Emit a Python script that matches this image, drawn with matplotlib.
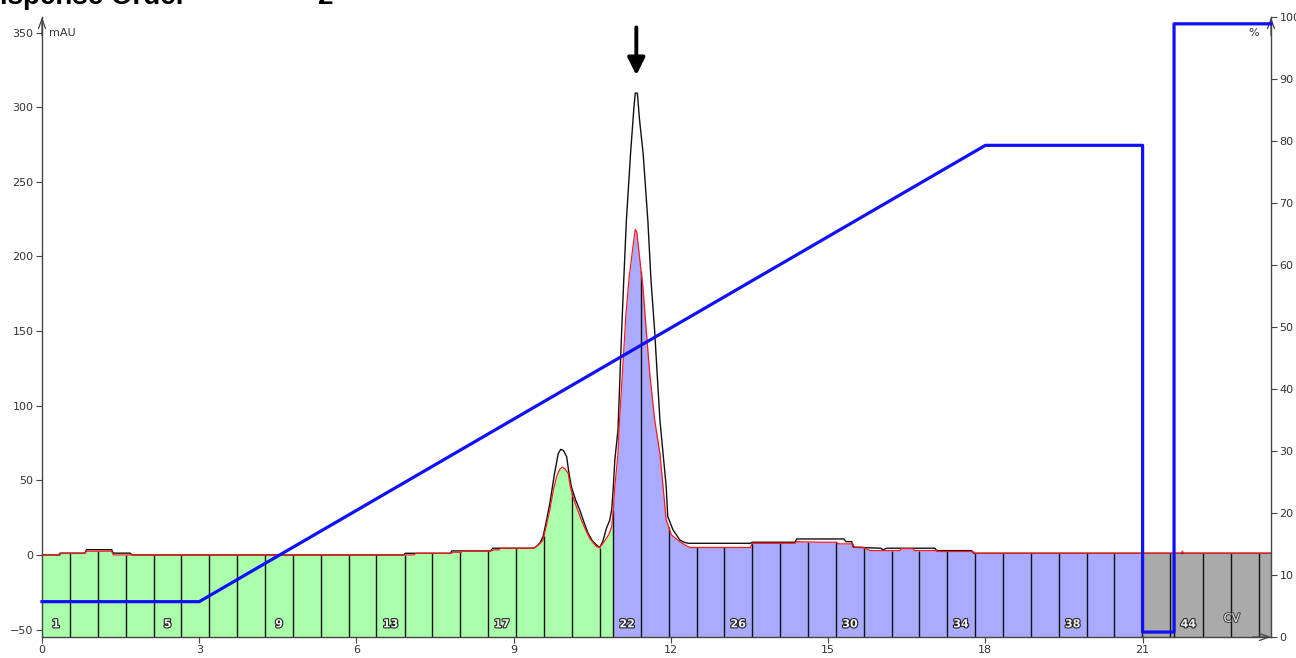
import numpy as np
import matplotlib
matplotlib.use("Agg")
import matplotlib.pyplot as plt
import matplotlib.patheffects as pe

# UV trace (black), CV vs mAU
black_cv = [0.0, 0.34, 0.345, 0.82, 0.85, 1.33, 1.36, 1.68, 1.72, 6.90, 6.93, 7.79, 7.82,
            8.56, 8.60, 9.38, 9.43, 9.50, 9.56, 9.62, 9.69, 9.78, 9.85, 9.90, 9.95, 10.01,
            10.05, 10.10, 10.18, 10.26, 10.34, 10.42, 10.50, 10.58, 10.64, 10.70, 10.77,
            10.83, 10.87, 10.90, 10.93, 10.99, 11.06, 11.10, 11.15, 11.23, 11.29, 11.32,
            11.36, 11.40, 11.47, 11.56, 11.62, 11.69, 11.74, 11.79, 11.85, 11.91, 11.94,
            12.04, 12.17, 12.25, 12.33, 13.52, 13.55, 14.37, 14.40, 15.30, 15.34, 15.45,
            15.48, 16.00, 16.05, 16.12, 17.04, 17.07, 17.74, 17.78, 23.45]
black_mau = [0.0, 0.0, 1.2, 1.2, 3.5, 3.5, 1.2, 1.2, 0.0, 0.0, 1.1, 1.1, 2.7,
             2.7, 4.5, 4.5, 5.6, 8.0, 12.3, 22.0, 34.6, 54.7, 68.0, 70.8, 70.0, 65.9,
             56.0, 45.8, 37.0, 30.2, 22.0, 14.5, 9.5, 6.7, 4.9, 9.0, 17.9,
             23.0, 30.2, 45.0, 63.7, 83.8, 150.0, 184.0, 224.0, 269.0, 298.0, 309.5,
             309.5, 292.0, 269.0, 224.0, 184.0, 150.0, 120.0, 90.5, 68.0, 45.8, 25.7,
             16.8, 10.0, 8.5, 7.8, 7.8, 8.5, 8.5, 10.7, 10.7, 8.9, 8.9,
             5.2, 4.5, 3.5, 4.5, 4.5, 2.9, 2.9, 1.1, 1.1]

# second wavelength (red), CV vs mAU
red_cv = [0.0, 0.30, 0.34, 0.82, 0.85, 1.33, 1.36, 7.10, 7.13, 7.81, 7.85, 8.00, 8.03,
          8.58, 8.62, 8.72, 8.75, 9.38, 9.43, 9.50, 9.56, 9.62, 9.69, 9.76, 9.82, 9.88,
          9.93, 9.98, 10.04, 10.08, 10.13, 10.21, 10.29, 10.37, 10.45, 10.52, 10.58,
          10.64, 10.70, 10.77, 10.82, 10.87, 10.90, 10.93, 10.99, 11.02, 11.08, 11.14,
          11.20, 11.27, 11.32, 11.35, 11.40, 11.47, 11.53, 11.60, 11.69, 11.79, 11.85,
          11.91, 12.01, 12.17, 12.25, 12.36, 13.52, 13.55, 14.37, 14.40, 14.84, 15.16,
          15.20, 15.47, 15.50, 15.66, 15.80, 16.37, 16.40, 16.62, 16.65, 17.06, 17.09,
          17.76, 17.80, 21.74, 21.76, 21.78, 23.45]
red_mau = [0.0, 0.0, 1.0, 1.0, 2.5, 2.5, 0.0, 0.0, 1.1, 1.1, 1.8, 1.8, 2.7,
           2.7, 3.4, 3.4, 4.5, 4.5, 5.6, 7.5, 10.0, 19.0, 30.2, 44.0, 52.5, 57.5,
           58.8, 57.5, 54.7, 46.0, 39.0, 31.0, 23.5, 17.0, 11.2, 8.0, 5.6,
           4.9, 7.5, 11.2, 14.0, 19.0, 30.0, 45.8, 68.0, 90.5, 125.0, 160.0,
           185.0, 205.0, 218.2, 216.0, 200.0, 178.0, 150.0, 120.0, 90.5, 68.0, 45.8,
           23.5, 13.4, 8.9, 7.0, 5.0, 5.0, 7.8, 7.8, 8.9, 8.5, 8.5,
           7.4, 7.4, 5.2, 5.2, 2.9, 2.9, 4.2, 4.2, 2.9, 2.9, 2.3,
           2.3, 1.1, 1.1, 2.5, 1.1, 1.1]

# solvent B gradient, CV vs %
grad_cv = [0.0, 3.0, 18.0, 21.0, 21.0, 21.6, 21.6, 23.45]
grad_pct = [5.7, 5.7, 79.3, 79.3, 0.8, 0.8, 98.9, 98.9]

# collected fractions (edges in CV)
frac_edges = [0.0, 0.53, 1.06, 1.60, 2.13, 2.66, 3.19, 3.72, 4.26, 4.79, 5.32, 5.85, 6.38,
              6.92, 7.45, 7.98, 8.51, 9.04, 9.58, 10.11, 10.64, 10.90, 11.43, 11.96, 12.49,
              13.02, 13.55, 14.08, 14.62, 15.15, 15.68, 16.21, 16.74, 17.27, 17.80, 18.34,
              18.87, 19.40, 19.93, 20.46, 20.99, 21.52, 21.60, 22.15, 22.69, 23.22, 23.45]
frac_numbers = list(range(1, 42)) + [43, 44, 45, 46, 47]
frac_colors = ["#aaffaa"] * 21 + ["#aaaaff"] * 19 + ["#aaaaaa"] * 6
frac_labels = [1, 5, 9, 13, 17, 22, 26, 30, 34, 38, 44]

x_ticks = [0, 3, 6, 9, 12, 15, 18, 21]
mau_ticks = [-50, 0, 50, 100, 150, 200, 250, 300, 350]
pct_ticks = [0, 10, 20, 30, 40, 50, 60, 70, 80, 90, 100]

YMIN, YMAX = -55, 360.5
XMAX = 23.45
axis_col = "#444444"
tick_col = "#333333"

fig = plt.figure(figsize=(12.96, 6.58), dpi=100)
ax = fig.add_axes([42 / 1296, 21 / 658, 1229 / 1296, 620 / 658])
ax.set_xlim(0, XMAX)
ax.set_ylim(YMIN, YMAX)

# fraction bars, filled up to the red trace
for i in range(len(frac_numbers)):
    a, b = frac_edges[i], frac_edges[i + 1]
    inside = [c for c in red_cv if a < c < b]
    xs = np.union1d(np.linspace(a, b, 40), inside)
    ys = np.interp(xs, red_cv, red_mau)
    ax.fill_between(xs, YMIN, ys, color=frac_colors[i], lw=0, zorder=1)
    if frac_numbers[i] in frac_labels:
        ax.text((a + b) / 2, -46.5, str(frac_numbers[i]), ha="center", va="center",
                fontsize=8, fontweight="bold", color="#f4f4f4", zorder=5,
                path_effects=[pe.withStroke(linewidth=1.6, foreground="#222222")])

edge_tops = np.interp(frac_edges[1:-1], red_cv, red_mau)
ax.vlines(frac_edges[1:-1], YMIN, edge_tops, color="#111111", lw=1.0, zorder=2)

ax.plot(black_cv, black_mau, color="#111111", lw=1.0, zorder=3)
ax.plot(red_cv, red_mau, color="#ff1a1a", lw=0.9, zorder=4)

# arrow over the main peak
peak = int(np.argmax(black_mau))
peak_x = (black_cv[peak] + black_cv[peak + 1]) / 2
ax.annotate("", xy=(peak_x, 321.5), xytext=(peak_x, 353.5),
            arrowprops=dict(arrowstyle="-|>", lw=2.8, color="black", mutation_scale=26,
                            shrinkA=0, shrinkB=0), zorder=6)

for s in ["top", "right"]:
    ax.spines[s].set_visible(False)
for s in ["left", "bottom"]:
    ax.spines[s].set_color(axis_col)
    ax.spines[s].set_linewidth(1.0)
ax.set_xticks(x_ticks)
ax.set_yticks(mau_ticks)
ax.tick_params(axis="both", direction="out", length=4.5, width=0.8, color=axis_col,
               labelsize=8, labelcolor=tick_col, pad=1.5)
ax.text(0.006, 0.975, "mAU", transform=ax.transAxes, fontsize=8, color=tick_col,
        va="center", ha="left")
ax.text(22.7, -42.5, "CV", fontsize=8.5, color="#f4f4f4", ha="center", va="center", zorder=5,
        path_effects=[pe.withStroke(linewidth=1.4, foreground="#333333")])

# gradient on the right-hand % axis
ax2 = ax.twinx()
ax2.set_ylim(0, 100)
ax2.plot(grad_cv, grad_pct, color="#1010ff", lw=2.3, zorder=5, clip_on=False)
for s in ["top", "left", "bottom"]:
    ax2.spines[s].set_visible(False)
ax2.spines["right"].set_color(axis_col)
ax2.spines["right"].set_linewidth(1.0)
ax2.set_yticks(pct_ticks)
ax2.tick_params(axis="y", direction="out", length=4.5, width=0.8, color=axis_col,
                labelsize=8, labelcolor=tick_col, pad=1.5)
ax2.text(0.99, 0.975, "%", transform=ax2.transAxes, fontsize=8, color=tick_col,
         va="center", ha="right")

# open arrow heads on the axis ends
arrow = dict(arrowstyle="->,head_length=0.7,head_width=0.25", lw=0.9, color=axis_col,
             shrinkA=0, shrinkB=0)
ax2.annotate("", xy=(0, 1), xytext=(0, 0.97), xycoords="axes fraction", arrowprops=arrow)
ax2.annotate("", xy=(1, 1), xytext=(1, 0.97), xycoords="axes fraction", arrowprops=arrow)
ax2.annotate("", xy=(1, 0), xytext=(0.985, 0), xycoords="axes fraction", arrowprops=arrow)

# page heading, mostly above the top edge
fig.text(-20 / 1296, 1 - 4 / 658, "Dispense Order", fontsize=20, fontweight="bold",
         family="Liberation Sans", va="baseline", ha="left")
fig.text(318 / 1296, 1 - 4 / 658, "2", fontsize=20, fontweight="bold",
         family="Liberation Sans", va="baseline", ha="left")

fig.savefig("out.png", dpi=100)
